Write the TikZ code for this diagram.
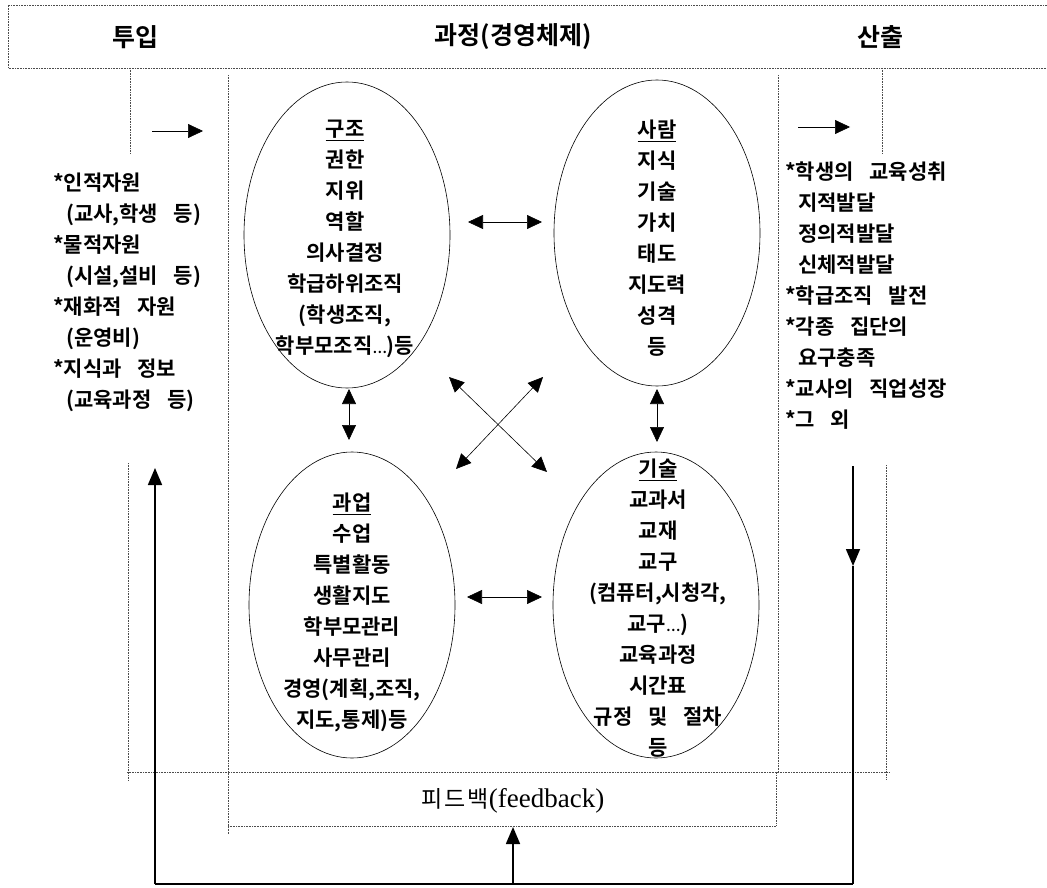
\documentclass[tikz,border=0pt]{standalone}
\usepackage{fontspec}
\usetikzlibrary{shapes.geometric,arrows.meta}
\setmainfont{Noto Sans CJK KR}
\newfontfamily\kr{Noto Sans CJK KR Bold}
\newfontfamily\krt{Noto Sans CJK KR Bold}
\newfontfamily\krf[LetterSpace=8]{Noto Sans CJK KR}
\newfontfamily\lser{Liberation Serif}
\newcommand\kws{\hspace{0.75em}}
\newcommand\kdots{{\fontsize{13}{31}\selectfont …}}
\tikzset{
  dotl/.style={densely dotted, line width=0.6pt, black!70},
  oval/.style={draw, ellipse, line width=0.6pt, minimum width=206pt, minimum height=306pt, inner sep=0pt},
  body/.style={font=\kr\fontsize{21}{31}\selectfont, inner sep=0pt},
  title/.style={font=\krt\fontsize{25}{27}\selectfont, inner sep=0pt},
  dbl/.style={{Triangle[length=15pt,width=14pt]}-{Triangle[length=15pt,width=14pt]}, line width=0.6pt},
  sgl/.style={-{Triangle[length=15pt,width=14pt]}, line width=0.6pt},
  fb/.style={line width=1.6pt},
}
\begin{document}
\begin{tikzpicture}[x=1pt,y=-1pt]
\useasboundingbox[fill=white] (0,0) rectangle (1047,888);

% header frame
\draw[dotl] (1050,5) -- (8,5) -- (8,68) -- (1050,68);
\node[title] (tin) at (135,37) {투입};
\node[title] (tpr) at (513,37) {과정(경영체제)};
\node[title] (tout) at (880,37) {산출};

% dotted guide lines
\draw[dotl] (130,68) -- (130,153);
\draw[dotl] (882,68) -- (882,153);
\draw[dotl] (128,463) -- (128,780);
\draw[dotl] (886,465) -- (886,780);
\draw[dotl] (228,75) -- (228,834);
\draw[dotl] (778,75) -- (778,772);
\draw[dotl] (127,772) -- (890,772);
\draw[dotl] (228,826) -- (776,826) -- (776,772);

% input / output arrows
\coordinate (ia) at (152,131);
\coordinate (ib) at (203,131);
\draw[sgl] (ia) -- (ib);
\coordinate (oa) at (798,127);
\coordinate (ob) at (850,127);
\draw[sgl] (oa) -- (ob);

% left list
\node[body, anchor=north west, align=left] (inlist) at (53,173) {*인적자원\\
\hspace{13pt}(교사,학생\kws 등)\\
*물적자원\\
\hspace{13pt}(시설,설비\kws 등)\\
*재화적\kws 자원\\
\hspace{13pt}(운영비)\\
*지식과\kws 정보\\
\hspace{13pt}(교육과정\kws 등)};

% right list
\node[body, anchor=north west, align=left] (outlist) at (785,162) {*학생의\kws 교육성취\\
\hspace{13pt}지적발달\\
\hspace{13pt}정의적발달\\
\hspace{13pt}신체적발달\\
*학급조직\kws 발전\\
*각종\kws 집단의\\
\hspace{13pt}요구충족\\
*교사의\kws 직업성장\\
*그\kws 외};

% ellipses
\node[oval] (e1) at (347,235) {};
\node[oval] (e2) at (657,233) {};
\node[oval] (e3) at (352,605) {};
\node[oval] (e4) at (656,605) {};

\node[body, anchor=north, align=center] (t1) at (345,120) {\underline{구조}\\권한\\지위\\역할\\의사결정\\학급하위조직\\(학생조직,\\학부모조직\kdots)등};
\node[body, anchor=north, align=center] (t2) at (657,120) {\underline{사람}\\지식\\기술\\가치\\태도\\지도력\\성격\\등};
\node[body, anchor=north, align=center] (t3) at (352,493) {\underline{과업}\\수업\\특별활동\\생활지도\\학부모관리\\사무관리\\경영(계획,조직,\\지도,통제)등};
\node[body, anchor=north, align=center] (t4) at (658,459) {\underline{기술}\\교과서\\교재\\교구\\(컴퓨터,시청각,\\교구\kdots)\\교육과정\\시간표\\규정\kws 및\kws 절차\\등};

% relation arrows
\coordinate (h1a) at (468,222); \coordinate (h1b) at (542,222);
\draw[dbl] (h1a) -- (h1b);
\coordinate (h2a) at (467,597); \coordinate (h2b) at (542,597);
\draw[dbl] (h2a) -- (h2b);
\coordinate (v1a) at (349,389); \coordinate (v1b) at (349,440);
\draw[dbl] (v1a) -- (v1b);
\coordinate (v2a) at (657,389); \coordinate (v2b) at (657,442);
\draw[dbl] (v2a) -- (v2b);
\coordinate (x1a) at (449,377); \coordinate (x1b) at (547,472);
\draw[dbl] (x1a) -- (x1b);
\coordinate (x2a) at (456,469); \coordinate (x2b) at (543,377);
\draw[dbl] (x2a) -- (x2b);

% feedback
\node[inner sep=0pt] (fbk) at (513,801) {{\krf\fontsize{23}{26}\selectfont 피드백}{\lser\fontsize{27}{28}\selectfont(feedback)}};
\coordinate (bl) at (155,884);
\coordinate (br) at (853,884);
\coordinate (bm) at (513,884);
\coordinate (lt) at (155,468);
\coordinate (rt) at (853,466);
\coordinate (rm) at (853,566);
\coordinate (ft) at (513,827);
\draw[fb] (bl) -- (br);
\draw[fb, -{Triangle[length=17pt,width=14pt]}] (bl) -- (lt);
\draw[fb, -{Triangle[length=17pt,width=14pt]}] (bm) -- (ft);
\draw[fb, -{Triangle[length=17pt,width=14pt]}] (rt) -- (rm);
\draw[fb] (rm) -- (br);
\end{tikzpicture}
\end{document}
